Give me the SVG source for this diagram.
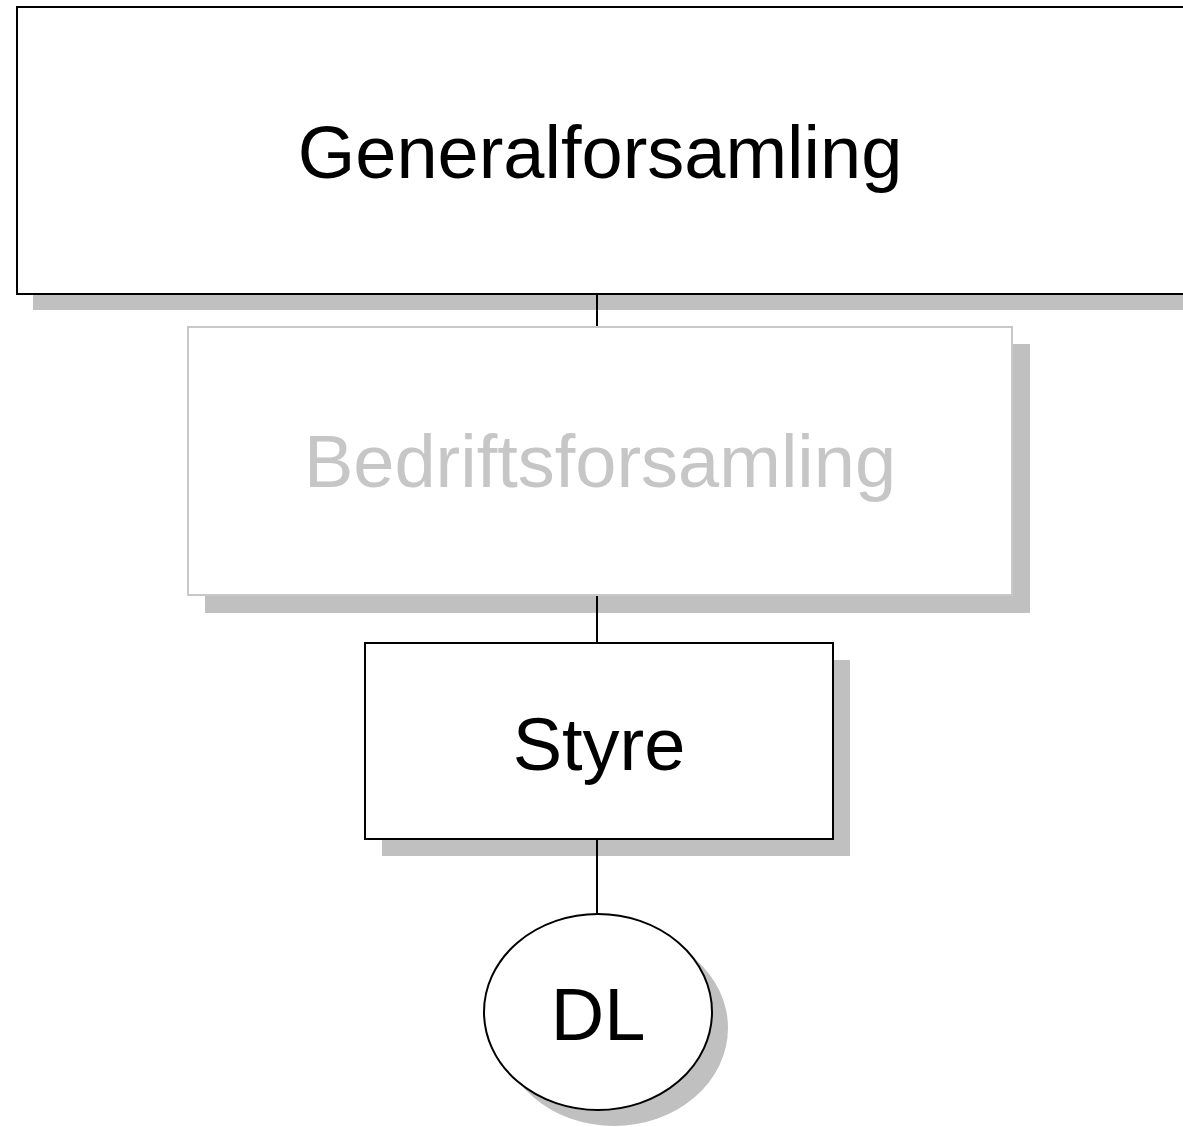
<svg xmlns="http://www.w3.org/2000/svg" width="1183" height="1127" viewBox="0 0 1183 1127">
<style>
.sh{fill:#c0c0c0;stroke:none}
.box{fill:#fff;stroke:#000;stroke-width:2}
.dim{stroke:#c8c8c8}
.lbl{font-family:"Liberation Sans",Arial,sans-serif;font-size:74px;text-anchor:middle;fill:#000}
.conn{stroke:#000;stroke-width:2;fill:none}
</style>
<rect width="1183" height="1127" fill="#fff"/>
<g id="generalforsamling">
<rect class="sh" x="33" y="23" width="1200" height="287"/>
<rect class="box" x="17" y="7" width="1200" height="287"/>
<text class="lbl" x="600" y="178">Generalforsamling</text>
</g>
<g id="bedriftsforsamling">
<rect class="sh" x="205" y="344" width="825" height="269"/>
<rect class="box dim" x="188" y="327" width="824" height="268"/>
<text class="lbl" x="600" y="487" style="fill:#c6c6c6">Bedriftsforsamling</text>
</g>
<g id="styre">
<rect class="sh" x="382" y="660" width="468" height="196"/>
<rect class="box" x="365" y="643" width="468" height="196"/>
<text class="lbl" x="599" y="770">Styre</text>
</g>
<g id="dl">
<ellipse class="sh" cx="614" cy="1028" rx="114" ry="98"/>
<ellipse class="box" cx="598" cy="1012" rx="114" ry="98"/>
<text class="lbl" x="598" y="1040">DL</text>
</g>
<g id="connectors">
<line class="conn" x1="597" y1="294" x2="597" y2="326"/>
<line class="conn" x1="597" y1="596" x2="597" y2="642"/>
<line class="conn" x1="597" y1="840" x2="597" y2="913"/>
</g>
</svg>
